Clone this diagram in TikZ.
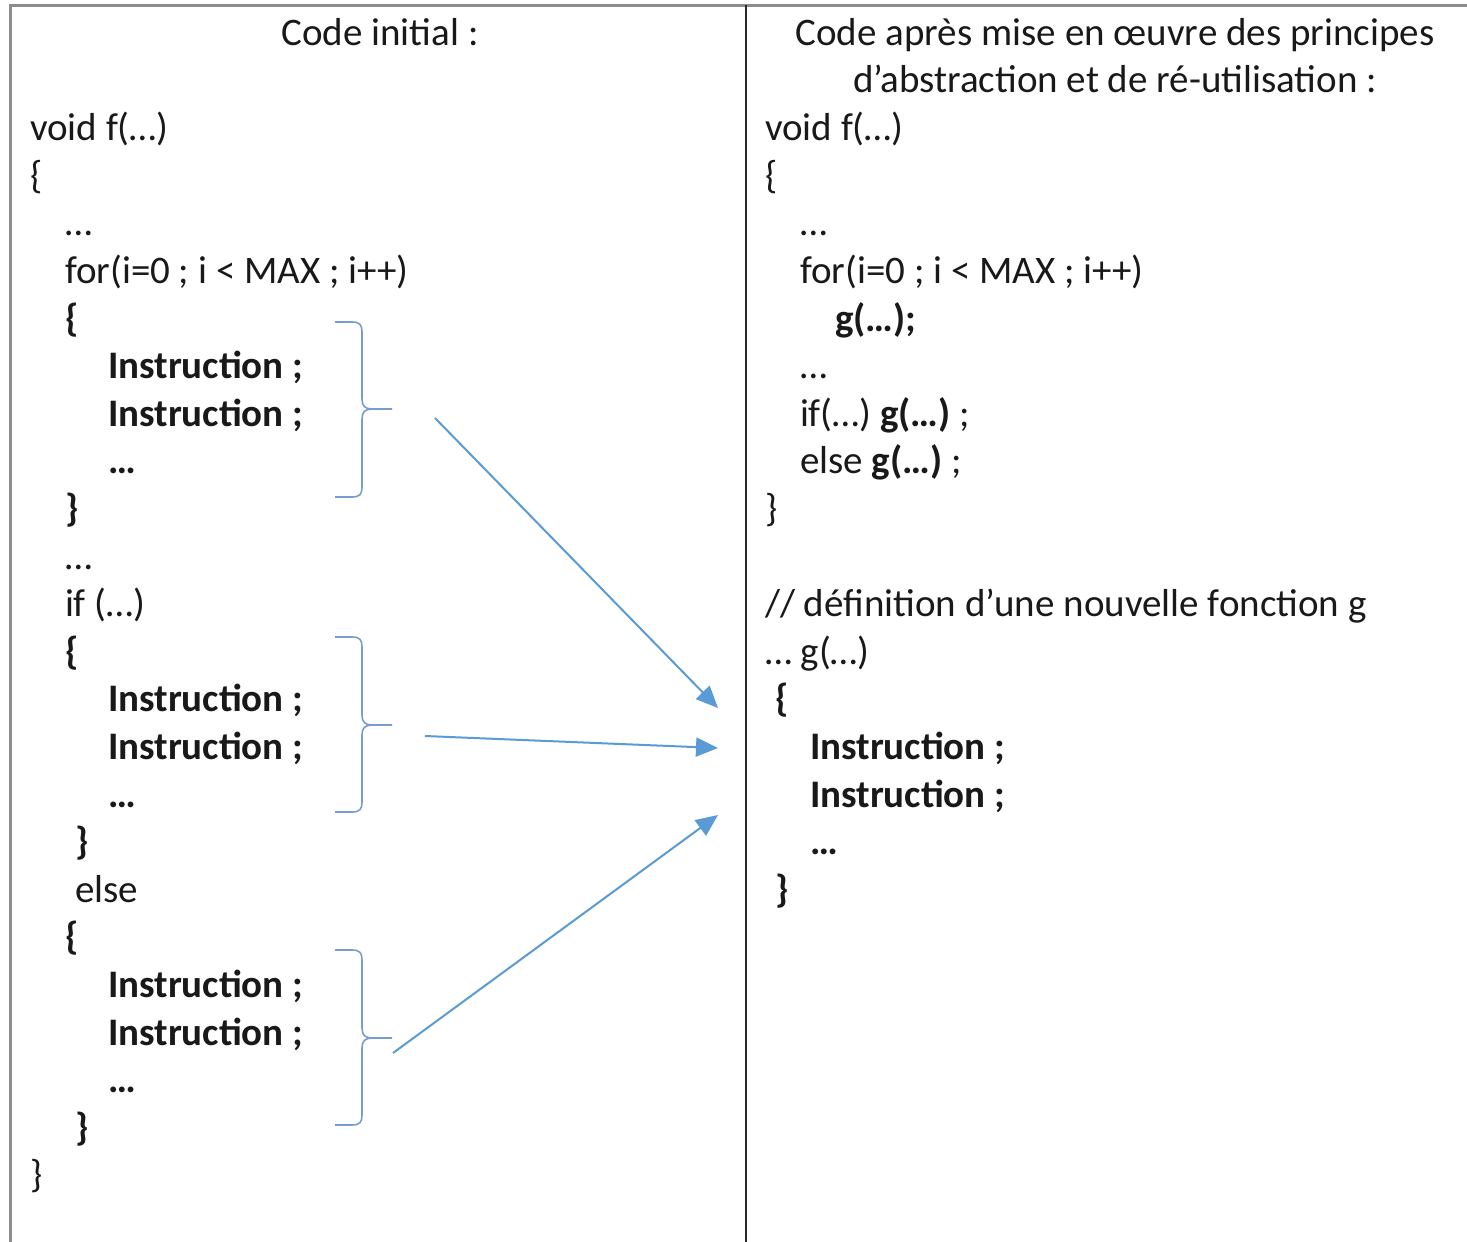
\documentclass[tikz,border=0pt]{standalone}
\usepackage{fontspec}
\setmainfont{Carlito}
\usetikzlibrary{arrows.meta}
\definecolor{bracecol}{RGB}{120,157,205}
\definecolor{arrowcol}{RGB}{91,155,213}
\definecolor{framegray}{RGB}{140,140,140}
\definecolor{dividercol}{RGB}{40,40,40}
\definecolor{txt}{RGB}{25,25,25}
\begin{document}
\begin{tikzpicture}[x=1pt,y=-1pt,
  code/.style={anchor=base west, inner sep=0pt, outer sep=0pt, text=txt, yshift=-2pt,
    font={\fontsize{39pt}{47.6pt}\selectfont}},
  bcode/.style={code, font={\fontsize{39pt}{47.6pt}\selectfont\bfseries}},
  hdr/.style={anchor=base, inner sep=0pt, outer sep=0pt, text=txt, yshift=-2pt,
    font={\fontsize{39pt}{47.6pt}\selectfont}},
  bracepath/.style={draw=bracecol, line width=1.6pt},
  conn/.style={draw=arrowcol, line width=2pt, -{Triangle[length=22pt,width=19pt]}}
]
\useasboundingbox (0,0) rectangle (1467,1242);
\fill[white] (0,0) rectangle (1467,1242);

% frame
\draw[framegray, line width=3pt] (10,1242) -- (10,5) -- (1467,5);
\draw[dividercol, line width=2pt] (746,5) -- (746,1242);

% headers
\node[hdr] (h1) at (380,43) {Code initial :};
\node[hdr] (h2a) at (1115,43) {Code après mise en œuvre des principes};
\node[hdr] (h2b) at (1115,90.6) {d’abstraction et de ré-utilisation :};

% left column
\node[code]  (l1)  at (30,138)   {void f(…)};
\node[code]  (l2)  at (30,186)   {\{};
\node[code]  (l3)  at (65,233)   {…};
\node[code]  (l4)  at (65,281)   {for(i=0 ; i < MAX ; i++)};
\node[bcode] (l5)  at (65,329)   {\{};
\node[bcode] (l6)  at (108,376)  {Instruction ;};
\node[bcode] (l7)  at (108,424)  {Instruction ;};
\node[bcode] (l8)  at (108,471)  {…};
\node[bcode] (l9)  at (65,519)   {\}};
\node[code]  (l10) at (65,567)   {…};
\node[code]  (l11) at (65,614)   {if (…)};
\node[bcode] (l12) at (65,662)   {\{};
\node[bcode] (l13) at (108,709)  {Instruction ;};
\node[bcode] (l14) at (108,757)  {Instruction ;};
\node[bcode] (l15) at (108,805)  {…};
\node[bcode] (l16) at (75,852)   {\}};
\node[code]  (l17) at (75,900)   {else};
\node[bcode] (l18) at (65,947)   {\{};
\node[bcode] (l19) at (108,995)  {Instruction ;};
\node[bcode] (l20) at (108,1043) {Instruction ;};
\node[bcode] (l21) at (108,1090) {…};
\node[bcode] (l22) at (75,1138)  {\}};
\node[code]  (l23) at (30,1185)  {\}};

% right column
\node[code]  (r1)  at (765,138) {void f(…)};
\node[code]  (r2)  at (765,186) {\{};
\node[code]  (r3)  at (800,233) {…};
\node[code]  (r4)  at (800,281) {for(i=0 ; i < MAX ; i++)};
\node[bcode] (r5)  at (835,329) {g(…);};
\node[code]  (r6)  at (800,376) {…};
\node[code]  (r7)  at (800,424) {if(…) \textbf{g(…)} ;};
\node[code]  (r8)  at (800,471) {else \textbf{g(…)} ;};
\node[code]  (r9)  at (765,519) {\}};
\node[code]  (r10) at (765,614) {// définition d’une nouvelle fonction g};
\node[code]  (r11) at (765,662) {… g(…)};
\node[bcode] (r12) at (775,709) {\{};
\node[bcode] (r13) at (810,757) {Instruction ;};
\node[bcode] (r14) at (810,805) {Instruction ;};
\node[bcode] (r15) at (810,852) {…};
\node[bcode] (r16) at (775,900) {\}};

% braces
\foreach \t/\m/\b in {322/409/497, 637/725/812, 950/1038/1125}{
  \draw[bracepath] (335,\t) -- (352,\t) .. controls (360,\t) and (362,\t+3) .. (362,\t+10)
    -- (362,\m-10) .. controls (362,\m-3) and (365,\m) .. (372,\m) -- (392,\m);
  \draw[bracepath] (372,\m) .. controls (365,\m) and (362,\m+3) .. (362,\m+10)
    -- (362,\b-10) .. controls (362,\b-3) and (360,\b) .. (352,\b) -- (335,\b);
}

% connectors
\coordinate (s1) at (435,418);
\coordinate (e1) at (718,708);
\coordinate (s2) at (425,736);
\coordinate (e2) at (718,748);
\coordinate (s3) at (393,1053);
\coordinate (e3) at (718,815);
\draw[conn] (s1) -- (e1);
\draw[conn] (s2) -- (e2);
\draw[conn] (s3) -- (e3);
\end{tikzpicture}
\end{document}
